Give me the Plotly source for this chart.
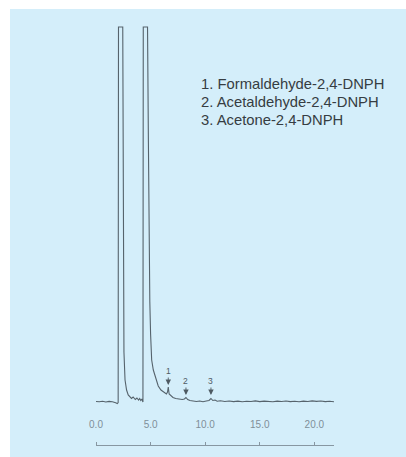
import plotly.graph_objects as go

# Retention time (min) and detector signal (arbitrary units, baseline = 0, off-scale peaks clipped at 375)
time_min = [
    0.0, 0.3, 0.6, 0.9, 1.2, 1.5, 1.8, 1.95, 2.03,
    2.06, 2.45, 2.5, 2.56, 2.66, 2.8, 2.95, 3.1, 3.25,
    3.4, 3.5, 3.6, 3.75, 3.9, 4.0, 4.1, 4.2, 4.3,
    4.33, 4.72, 4.8, 4.87, 4.93, 5.0, 5.1, 5.25, 5.45,
    5.7, 5.95, 6.2, 6.45, 6.55, 6.62, 6.7, 6.85, 7.05,
    7.3, 7.6, 7.9, 8.1, 8.24, 8.4, 8.6, 8.9, 9.2,
    9.5, 9.8, 10.1, 10.35, 10.53, 10.7, 10.9, 11.1, 11.4,
    11.8, 12.2, 12.6, 13.0, 13.4, 13.8, 14.2, 14.6, 15.0,
    15.4, 15.8, 16.2, 16.6, 17.0, 17.4, 17.8, 18.2, 18.6,
    19.0, 19.4, 19.8, 20.2, 20.6, 21.0, 21.4, 21.8,
]
signal = [
    0.5, 0.2, 0.8, 0.0, 0.6, 0.3, -0.8, -1.5, -0.5,
    375, 375, 150, 50, 22, 12, 7, 5, 3.5,
    5, 3, 2.5, 4, 2, 3.5, 1.5, 3, 0,
    375, 375, 260, 150, 100, 68, 42, 32, 24,
    16, 12, 10, 8, 10, 15, 8, 6, 4.5,
    3.5, 3, 2.5, 3, 4.5, 2.5, 1.5, 1, 0.5,
    1, 0.3, 1, 1.5, 3.5, 1.5, 2, 0.8, 1.2,
    0.5, 1, 0.4, 0.9, 0.3, 0.8, 0.5, 1.1, 0.4,
    0.9, 0.6, 0.2, 0.9, 0.5, 1.0, 0.4, 0.8, 0.3,
    0.9, 0.5, 1.1, 0.6, 1.0, 0.4, 0.7, 0.3,
]

x_ticks = [0, 5, 10, 15, 20]
x_tick_labels = ["0.0", "5.0", "10.0", "15.0", "20.0"]

peak_numbers = ["1", "2", "3"]
peak_times = [6.62, 8.24, 10.53]
arrow_tips = [17, 7, 7]

legend_lines = [
    "1. Formaldehyde-2,4-DNPH",
    "2. Acetaldehyde-2,4-DNPH",
    "3. Acetone-2,4-DNPH",
]

W, H = 406, 457
L, R, T, B = 96, 72, 25, 12
pw, ph = W - L - R, H - T - B

fig = go.Figure()
fig.add_trace(go.Scatter(
    x=time_min, y=signal, mode="lines",
    line=dict(color="#56636c", width=1.1),
    hoverinfo="skip", showlegend=False,
))

def px_x(px):
    return (px - L) / pw

def px_y(py):
    return (H - B - py) / ph

shapes = [dict(
    type="rect", xref="paper", yref="paper", layer="below",
    x0=px_x(10), x1=px_x(W + 2), y0=px_y(H + 2), y1=px_y(9),
    fillcolor="#d4eefa", line=dict(width=0),
)]

annotations = []
for num, t, tip in zip(peak_numbers, peak_times, arrow_tips):
    annotations.append(dict(
        x=t, y=tip, xref="x", yref="y", text=num,
        showarrow=True, arrowhead=2, arrowsize=1.2, arrowwidth=0.9,
        arrowcolor="#4e5a62", ax=0, ay=-14,
        font=dict(family="Liberation Sans, Arial", size=8.5, color="#4e5a62"),
    ))

legend_y = [84, 102, 120]
for line, yy in zip(legend_lines, legend_y):
    annotations.append(dict(
        x=px_x(198.5), y=px_y(yy), xref="paper", yref="paper",
        xanchor="left", yanchor="middle", text=line, showarrow=False,
        font=dict(family="Liberation Sans, Arial", size=14.8, color="#363d42"),
    ))

fig.update_layout(
    width=W, height=H,
    margin=dict(l=L, r=R, t=T, b=B, pad=0),
    paper_bgcolor="white",
    plot_bgcolor="rgba(0,0,0,0)",
    shapes=shapes,
    annotations=annotations,
    xaxis=dict(
        range=[0, 21.8], tickvals=x_ticks, ticktext=x_tick_labels,
        side="top", anchor="free", position=0,
        showgrid=False, zeroline=False,
        showline=True, linecolor="#8797a2", linewidth=1,
        ticks="outside", ticklen=3, tickcolor="#8797a2", tickwidth=1,
        ticklabelstandoff=10,
        tickfont=dict(family="Liberation Sans, Arial", size=10, color="#7f8f99"),
    ),
    yaxis=dict(
        range=[-43, 377], visible=False, showgrid=False, zeroline=False,
        domain=[0, 1],
    ),
)

fig.write_html("out.html")
